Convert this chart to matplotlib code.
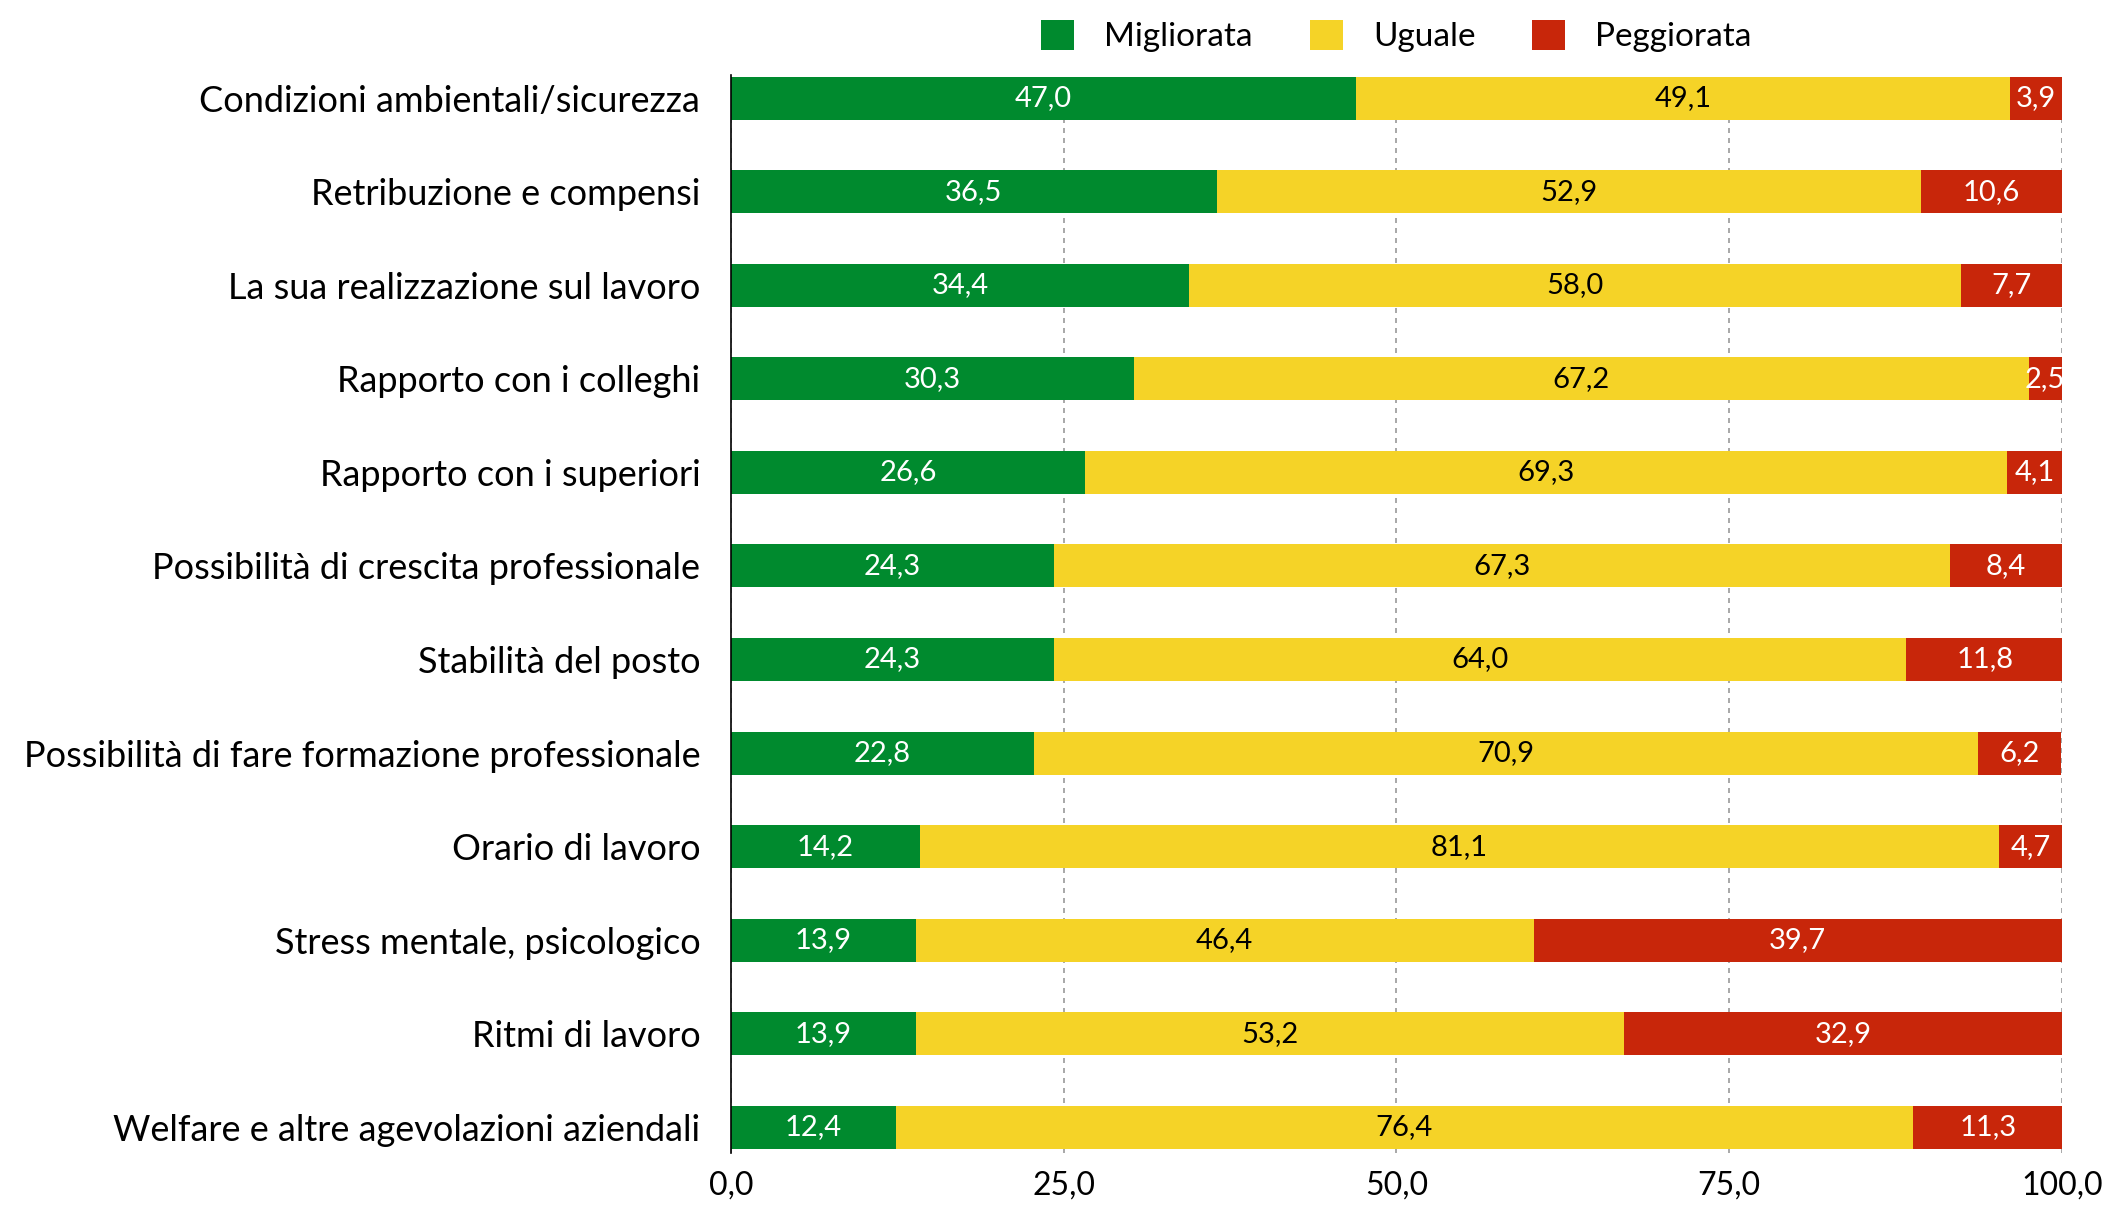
import matplotlib
matplotlib.use("Agg")
import matplotlib.pyplot as plt
import numpy as np

plt.rcParams['font.family'] = ['Lato', 'DejaVu Sans']

categories = ["Condizioni ambientali/sicurezza",
              "Retribuzione e compensi",
              "La sua realizzazione sul lavoro",
              "Rapporto con i colleghi",
              "Rapporto con i superiori",
              "Possibilità di crescita professionale",
              "Stabilità del posto",
              "Possibilità di fare formazione professionale",
              "Orario di lavoro",
              "Stress mentale, psicologico",
              "Ritmi di lavoro",
              "Welfare e altre agevolazioni aziendali"]
migliorata = [47.0, 36.5, 34.4, 30.3, 26.6, 24.3, 24.3, 22.8, 14.2, 13.9, 13.9, 12.4]
uguale = [49.1, 52.9, 58.0, 67.2, 69.3, 67.3, 64.0, 70.9, 81.1, 46.4, 53.2, 76.4]
peggiorata = [3.9, 10.6, 7.7, 2.5, 4.1, 8.4, 11.8, 6.2, 4.7, 39.7, 32.9, 11.3]
series_names = ["Migliorata", "Uguale", "Peggiorata"]
colors = ["#008A2E", "#F5D327", "#C8260A"]
text_colors = ["white", "black", "white"]
xticks = [0, 25, 50, 75, 100]

fig = plt.figure(figsize=(21.07, 12.06), dpi=100)
ax = fig.add_axes([0.3469, 0.0442, 0.9786 - 0.3469, 0.9381 - 0.0442])

y = np.arange(len(categories))
left = np.zeros(len(categories))
handles = []
for vals, name, col, tcol in zip([migliorata, uguale, peggiorata], series_names, colors, text_colors):
    vals = np.array(vals)
    b = ax.barh(y, vals, left=left, height=0.46, color=col, label=name, zorder=3)
    handles.append(b)
    for yi, l, v in zip(y, left, vals):
        ax.text(l + v / 2, yi, f"{v:.1f}".replace(".", ","), ha="center", va="center",
                color=tcol, fontsize=21, zorder=4, clip_on=True)
    left = left + vals

ax.set_xlim(0, 100)
ax.set_ylim(11.27, -0.25)
ax.set_yticks(y)
ax.set_yticklabels(categories, fontsize=26)
ax.set_xticks(xticks)
ax.set_xticklabels([f"{t:.1f}".replace(".", ",") for t in xticks], fontsize=23)
ax.tick_params(axis="both", length=0)
ax.tick_params(axis="y", pad=22)
ax.tick_params(axis="x", pad=13)
for s in ["top", "right", "bottom"]:
    ax.spines[s].set_visible(False)
ax.spines["left"].set_color("black")
ax.spines["left"].set_linewidth(1.2)
ax.spines["left"].set_zorder(5)
ax.xaxis.grid(True, linestyle=(0, (3, 3)), color="#999999", linewidth=1.2, zorder=0)
ax.set_axisbelow(True)

fig.legend(handles=handles, labels=series_names, loc="center", bbox_to_anchor=(0.6628, 0.97),
           ncol=3, frameon=False, fontsize=24, handlelength=1.0, handleheight=1.0,
           columnspacing=1.7, handletextpad=0.9)

fig.savefig("out.png", dpi=100)
